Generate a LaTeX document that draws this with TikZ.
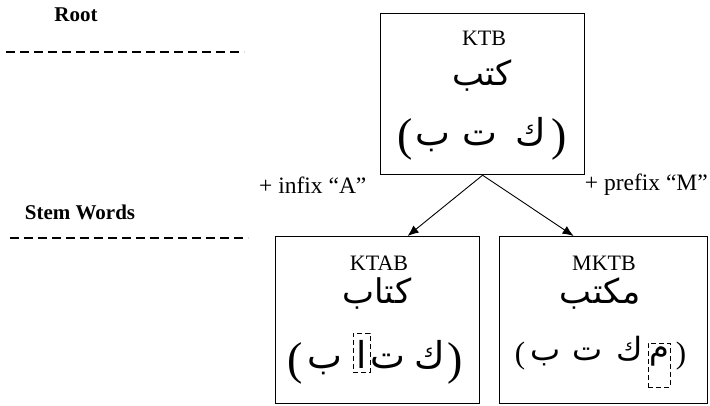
\documentclass[tikz,border=0pt]{standalone}
\usepackage{fontspec}
\setmainfont{Liberation Serif}
\newfontfamily\arabicfont[Script=Arabic]{DejaVu Sans}
\TeXXeTstate=1
\usetikzlibrary{arrows.meta}
\newcommand{\ar}[1]{{\arabicfont\beginR #1\endR}}
\begin{document}
\begin{tikzpicture}[x=1pt,y=-1pt,
  wordbox/.style={draw,line width=1.2pt,inner sep=0pt,anchor=north west},
  latin/.style={inner sep=0pt,font=\fontsize{22}{26}\selectfont},
  affix/.style={inner sep=0pt,font=\fontsize{23.5}{27}\selectfont},
  heading/.style={inner sep=0pt,font=\fontsize{21}{25}\selectfont\bfseries},
  bigword/.style={inner sep=0pt,anchor=base,font=\fontsize{34}{38}\selectfont},
  letter/.style={inner sep=0pt,anchor=base,font=\fontsize{37}{41}\selectfont},
  smallletter/.style={inner sep=0pt,anchor=base,font=\fontsize{32}{36}\selectfont},
  paren/.style={inner sep=0pt,font=\fontsize{46}{50}\selectfont},
  smallparen/.style={inner sep=0pt,font=\fontsize{31}{35}\selectfont},
  marked/.style={draw,line width=0.9pt,dash pattern=on 5pt off 3pt},
  levelline/.style={line width=1.2pt,dash pattern=on 9pt off 5pt},
  arr/.style={line width=0.9pt,-{Latex[length=11pt,width=9pt]}}
]
\useasboundingbox (0,0) rectangle (710,405);

% level headings
\node[heading] (rootlbl) at (76,15) {Root};
\draw[levelline] (6,52) -- (244,52);
\node[heading] (stemlbl) at (80,212) {Stem Words};
\draw[levelline] (10,238) -- (248,238);

% boxes
\node[wordbox,minimum width=204pt,minimum height=161pt] (rootbox) at (380,13) {};
\node[wordbox,minimum width=204pt,minimum height=167pt] (ktabbox) at (275,236) {};
\node[wordbox,minimum width=208pt,minimum height=167pt] (mktbbox) at (499,236) {};

% root box contents
\node[latin,anchor=base] (ktb) at (484,45) {KTB};
\node[bigword] (ktbar) at (482,85) {\ar{كتب}};
\node[paren] (rl) at (405,139) {(};
\node[letter] (rb) at (433,145) {\ar{ب}};
\node[letter] (rt) at (480,145) {\ar{ت}};
\node[letter] (rk) at (531,145) {\ar{ك}};
\node[paren] (rr) at (559,139) {)};

% KTAB box contents
\node[latin,anchor=base] (ktab) at (379,270) {KTAB};
\node[bigword] (ktabar) at (377,303) {\ar{كتاب}};
\node[paren] (al) at (295,363) {(};
\node[letter] (ab) at (325,368) {\ar{ب}};
\node[marked,minimum width=17pt,minimum height=39pt] (abox) at (361.5,352.5) {};
\node[letter] (aa) at (362,368) {\ar{ا}};
\node[letter] (at) at (388,368) {\ar{ت}};
\node[letter] (ak) at (430,368) {\ar{ك}};
\node[paren] (ar) at (455,363) {)};

% MKTB box contents
\node[latin,anchor=base] (mktb) at (604,270) {MKTB};
\node[bigword] (mktbar) at (600,303) {\ar{مكتب}};
\node[smallparen] (ml) at (520,356) {(};
\node[smallletter] (mb) at (546,360) {\ar{ب}};
\node[smallletter] (mt) at (588,360) {\ar{ت}};
\node[smallletter] (mk) at (630,360) {\ar{ك}};
\node[marked,minimum width=22pt,minimum height=44pt] (mbox) at (659,365) {};
\node[smallletter] (mm) at (659,358) {\ar{م}};
\node[smallparen] (mr) at (681,356) {)};

% derivations
\draw[arr] (rootbox.south) -- ([xshift=30pt]ktabbox.north);
\draw[arr] (rootbox.south) -- ([xshift=-30pt]mktbbox.north);
\node[affix,anchor=west] (infix) at (259,185) {+ infix “A”};
\node[affix,anchor=east] (prefix) at (708,185) {+ prefix “M”};
\end{tikzpicture}
\end{document}
